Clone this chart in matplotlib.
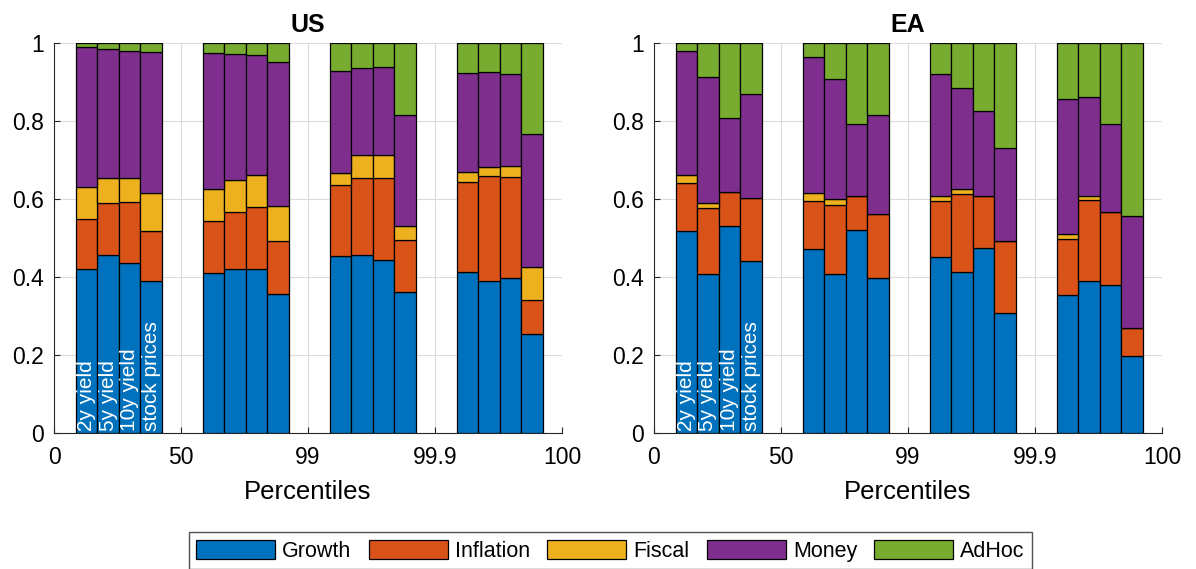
import matplotlib.pyplot as plt
import numpy as np

plt.rcParams['font.family'] = ['Liberation Sans', 'DejaVu Sans']

# shares of each shock in the variance of the four assets, by percentile bin
components = ['Growth', 'Inflation', 'Fiscal', 'Money', 'AdHoc']
colors = ['#0072BD', '#D95319', '#EDB120', '#7E2F8E', '#77AC30']
assets = ['2y yield', '5y yield', '10y yield', 'stock prices']
tick_labels = ['0', '50', '99', '99.9', '100']

# 16 bars per panel: 4 percentile groups x 4 assets
us_growth = [0.421, 0.456, 0.437, 0.390, 0.411, 0.422, 0.420, 0.356,
             0.453, 0.456, 0.443, 0.363, 0.413, 0.391, 0.397, 0.254]
us_inflation = [0.128, 0.133, 0.155, 0.129, 0.134, 0.146, 0.160, 0.137,
                0.183, 0.199, 0.211, 0.132, 0.231, 0.268, 0.261, 0.088]
us_fiscal = [0.081, 0.066, 0.063, 0.096, 0.082, 0.082, 0.081, 0.090,
             0.032, 0.058, 0.058, 0.037, 0.025, 0.024, 0.028, 0.085]
us_money = [0.360, 0.329, 0.324, 0.363, 0.349, 0.323, 0.310, 0.369,
            0.260, 0.223, 0.226, 0.283, 0.255, 0.242, 0.234, 0.339]
us_adhoc = [0.010, 0.016, 0.021, 0.022, 0.024, 0.027, 0.029, 0.048,
            0.072, 0.064, 0.062, 0.185, 0.076, 0.075, 0.080, 0.234]

ea_growth = [0.519, 0.409, 0.532, 0.442, 0.471, 0.407, 0.521, 0.397,
             0.452, 0.412, 0.474, 0.307, 0.353, 0.389, 0.379, 0.197]
ea_inflation = [0.123, 0.168, 0.087, 0.162, 0.125, 0.179, 0.086, 0.166,
                0.144, 0.202, 0.135, 0.185, 0.145, 0.210, 0.187, 0.072]
ea_fiscal = [0.021, 0.014, 0.000, 0.000, 0.020, 0.015, 0.000, 0.000,
             0.013, 0.013, 0.000, 0.000, 0.012, 0.009, 0.000, 0.000]
ea_money = [0.318, 0.323, 0.188, 0.266, 0.349, 0.306, 0.185, 0.252,
            0.311, 0.259, 0.217, 0.238, 0.348, 0.253, 0.228, 0.287]
ea_adhoc = [0.019, 0.086, 0.193, 0.130, 0.035, 0.093, 0.208, 0.185,
            0.080, 0.114, 0.174, 0.270, 0.142, 0.139, 0.206, 0.444]

panels = [('US', [us_growth, us_inflation, us_fiscal, us_money, us_adhoc]),
          ('EA', [ea_growth, ea_inflation, ea_fiscal, ea_money, ea_adhoc])]

fig = plt.figure(figsize=(11.96, 5.69), dpi=100)
lefts = [0.0452, 0.5468]

bw = 0.17
xpos = np.array([g + 0.255 + bw * j for g in range(4) for j in range(4)])

for (title, series), left in zip(panels, lefts):
    ax = fig.add_axes([left, 0.239, 0.4247, 0.685])
    bottom = np.zeros(16)
    handles = []
    for name, vals, c in zip(components, series, colors):
        h = ax.bar(xpos, vals, bw, bottom=bottom, color=c, edgecolor='black',
                   linewidth=0.9, label=name, zorder=3)
        handles.append(h)
        bottom += np.array(vals)
    for j, a in enumerate(assets):
        ax.text(xpos[j], 0.006, a, rotation=90, color='white', fontsize=15,
                ha='center', va='bottom', zorder=5)
    ax.set_xlim(0, 4)
    ax.set_ylim(0, 1)
    ax.set_xticks(range(5))
    ax.set_xticklabels(tick_labels)
    ax.set_yticks([0, 0.2, 0.4, 0.6, 0.8, 1])
    ax.set_yticklabels(['0', '0.2', '0.4', '0.6', '0.8', '1'])
    ax.tick_params(labelsize=16.5, direction='in', length=4, color='#262626')
    ax.tick_params(axis='x', pad=9)
    ax.tick_params(axis='y', pad=7)
    ax.grid(True, color='#dcdcdc', linewidth=0.8, zorder=0)
    ax.set_axisbelow(True)
    for s in ['top', 'right']:
        ax.spines[s].set_visible(False)
    for s in ['left', 'bottom']:
        ax.spines[s].set_color('#262626')
    ax.set_title(title, fontsize=18, fontweight='bold', pad=8)
    ax.set_xlabel('Percentiles', fontsize=18.5, labelpad=8)

fig.legend(handles, components, loc='upper center', bbox_to_anchor=(0.5105, 1 - 532 / 569),
           ncol=5, fontsize=15.5, frameon=True, fancybox=False, edgecolor='#262626',
           handlelength=3.67, handleheight=1.0, handletextpad=0.33, columnspacing=0.8,
           borderpad=0.35, borderaxespad=0)

fig.savefig('out.png', dpi=100)
